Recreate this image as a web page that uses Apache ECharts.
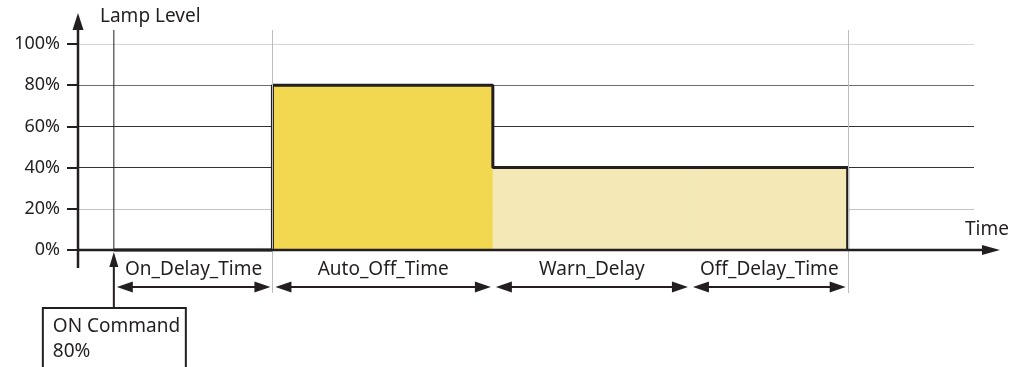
<!DOCTYPE html>
<html>
<head>
<meta charset="utf-8">
<title>Lamp Level timing</title>
<script src="https://cdn.jsdelivr.net/npm/echarts@6/dist/echarts.min.js"></script>
<style>
  html, body { margin: 0; padding: 0; background: #ffffff; }
  #chart { width: 1024px; height: 367px; }
</style>
</head>
<body>
<div id="chart"></div>
<script>
// Timing sequence of one ON command: phase boundaries on the time axis
const phaseNames = ['On_Delay_Time', 'Auto_Off_Time', 'Warn_Delay', 'Off_Delay_Time'];
const phaseEdges = [4, 21.7, 46.3, 68.3, 85.9];   // ON command, then end of each phase
const phaseLevels = [0, 80, 40, 40];              // lamp level (%) during each phase
const phaseFills = [null, '#f2d850', '#f3e8b6', '#f3e8b6'];
const levelTicks = ['0%', '20%', '40%', '60%', '80%', '100%'];
const commandLines = ['ON Command', '80%'];
const axisTitles = { y: 'Lamp Level', x: 'Time' };

const INK = '#231f20';
const FONT = '"Noto Sans", "Liberation Sans", sans-serif';

// Step outline of the lamp level
const outline = [];
phaseLevels.forEach((lvl, i) => {
  outline.push([phaseEdges[i], lvl], [phaseEdges[i + 1], lvl]);
});
outline.push([phaseEdges[phaseEdges.length - 1], 0]);

// Filled blocks, one per lit phase
const blocks = phaseLevels
  .map((lvl, i) => [phaseEdges[i], phaseEdges[i + 1], lvl, i])
  .filter(d => d[2] > 0);

function drawBlock(params, api) {
  const a = api.coord([api.value(0), api.value(2)]);
  const b = api.coord([api.value(1), 0]);
  return {
    type: 'rect',
    shape: { x: a[0], y: a[1], width: b[0] - a[0], height: b[1] - a[1] },
    style: { fill: phaseFills[api.value(3)] }
  };
}

function arrowHead(tip, dir, len, half) {
  // dir: unit vector pointing toward the tip
  const [dx, dy] = dir;
  const bx = tip[0] - dx * len, by = tip[1] - dy * len;
  return {
    type: 'polygon',
    shape: { points: [tip, [bx - dy * half, by + dx * half], [bx + dy * half, by - dx * half]] },
    style: { fill: INK }
  };
}

function text(str, x, y, align, size) {
  return {
    type: 'text',
    style: {
      text: str, x: x, y: y, align: align, verticalAlign: 'middle',
      font: size + 'px ' + FONT, fill: INK
    }
  };
}

function drawFrame(params, api) {
  const cs = params.coordSys;
  const origin = api.coord([0, 0]);
  const topY = api.coord([0, 100])[1];
  const ax = origin[0], ay = origin[1];
  const right = cs.x + cs.width;
  const kids = [];

  // reference lines for the ON command and the start/end of the lit period
  const onX = api.coord([phaseEdges[0], 0])[0];
  kids.push({ type: 'line', shape: { x1: onX, y1: topY - 14, x2: onX, y2: ay }, style: { stroke: INK, lineWidth: 1 } });
  [phaseEdges[1], phaseEdges[phaseEdges.length - 1]].forEach(t => {
    const x = Math.round(api.coord([t, 0])[0]) + 0.5;
    kids.push({ type: 'line', shape: { x1: x, y1: topY - 14, x2: x, y2: ay + 43 }, style: { stroke: '#bdbdbd', lineWidth: 1 } });
  });

  // axes with arrows
  kids.push({ type: 'line', shape: { x1: ax, y1: ay + 18, x2: ax, y2: topY - 18 }, style: { stroke: INK, lineWidth: 2.5 } });
  kids.push(arrowHead([ax, topY - 31], [0, -1], 17, 5.5));
  kids.push({ type: 'line', shape: { x1: ax, y1: ay, x2: right + 12, y2: ay }, style: { stroke: INK, lineWidth: 2.5 } });
  kids.push(arrowHead([right + 26, ay], [1, 0], 18, 5));

  kids.push(text(axisTitles.y, ax + 22, topY - 27, 'left', 19));
  kids.push(text(axisTitles.x, right - 9, ay - 20, 'left', 19));

  // phase duration brackets
  const by = ay + 37;
  phaseNames.forEach((name, i) => {
    const x1 = api.coord([phaseEdges[i], 0])[0] + 3;
    const x2 = api.coord([phaseEdges[i + 1], 0])[0] - 2;
    kids.push({ type: 'line', shape: { x1: x1 + 8, y1: by, x2: x2 - 8, y2: by }, style: { stroke: INK, lineWidth: 2 } });
    kids.push(arrowHead([x1, by], [-1, 0], 16, 5.5));
    kids.push(arrowHead([x2, by], [1, 0], 16, 5.5));
    kids.push(text(name, (x1 + x2) / 2, ay + 20, 'center', 19));
  });

  // ON command box with its pointer
  const boxTop = ay + 58;
  kids.push({ type: 'line', shape: { x1: onX, y1: boxTop, x2: onX, y2: ay + 12 }, style: { stroke: INK, lineWidth: 2 } });
  kids.push(arrowHead([onX, ay + 2], [0, -1], 15, 4.5));
  kids.push({ type: 'rect', shape: { x: onX - 71, y: boxTop, width: 143, height: 80 }, style: { fill: '#ffffff', stroke: INK, lineWidth: 2 } });
  commandLines.forEach((line, i) => {
    kids.push(text(line, onX - 61, boxTop + 19 + i * 25, 'left', 19));
  });

  return { type: 'group', children: kids };
}

const chart = echarts.init(document.getElementById('chart'), null, { renderer: 'canvas' });
chart.setOption({
  animation: false,
  backgroundColor: '#ffffff',
  grid: { left: 78, right: 50, top: 44, bottom: 117, containLabel: false, outerBoundsMode: 'none' },
  xAxis: {
    type: 'value', min: 0, max: 100,
    axisLine: { show: false }, axisTick: { show: false },
    axisLabel: { show: false }, splitLine: { show: false }
  },
  yAxis: {
    type: 'value', min: 0, max: 100, interval: 20,
    axisLine: { show: false },
    axisTick: { show: true, length: 11, lineStyle: { color: INK, width: 2 } },
    axisLabel: {
      margin: 18, fontSize: 18, fontFamily: FONT, color: INK,
      formatter: v => levelTicks[Math.round(v / 20)]
    },
    splitLine: {
      lineStyle: { width: 1, color: ['#231f20', '#c4c4c4', '#333333', '#333333', '#6e6e6e', '#d6d6d6'] }
    }
  },
  series: [
    {
      name: 'fill', type: 'custom', data: blocks, renderItem: drawBlock,
      encode: { x: [0, 1], y: 2 }, z: 1, silent: true
    },
    {
      name: 'Lamp Level', type: 'line', data: outline, symbol: 'none',
      lineStyle: { color: INK, width: 3 }, z: 3, clip: false, silent: true
    },
    {
      name: 'frame', type: 'custom', data: [[0, 0]], renderItem: drawFrame,
      z: 4, clip: false, silent: true
    }
  ]
});
</script>
</body>
</html>
